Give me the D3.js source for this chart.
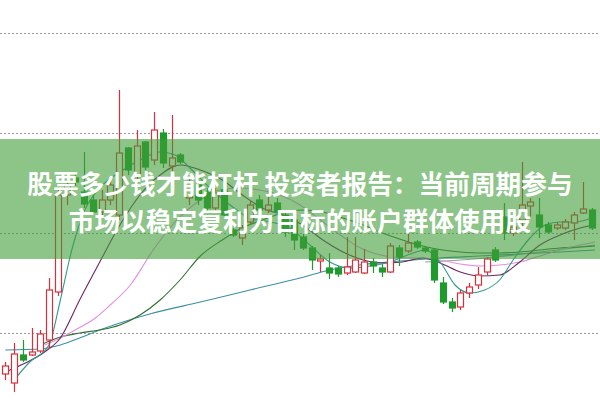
<!DOCTYPE html>
<html><head><meta charset="utf-8">
<script src="https://cdn.jsdelivr.net/npm/d3@7"></script>
<style>html,body{margin:0;padding:0;background:#fff;overflow:hidden}</style>
</head><body>
<svg id="c" width="600" height="400"></svg>
<script>
// ---- data (prices) ----
const opens  = [9.59,9.50,9.78,9.78,9.82,9.93,10.41,11.38,11.55,11.41,11.33,11.21,11.33,11.18,11.85,11.58,11.91,11.73,12.00,11.67,11.78,11.35,11.48,11.41,11.25,11.43,11.03,10.95,11.11,11.33,11.23,11.30,11.18,11.13,10.96,10.85,10.72,10.65,10.65,10.60,10.61,10.60,10.71,10.65,10.61,10.85,10.82,10.91,10.85,10.83,10.50,10.31,10.26,10.40,10.48,10.61,10.83,11.16,11.00,11.13,11.27,11.18,11.08,11.05,11.05,11.10,11.20,11.23];
const highs  = [9.71,9.90,9.93,10.05,10.03,10.55,11.45,11.55,11.58,11.81,11.38,11.43,11.55,12.43,11.86,12.03,11.92,12.21,12.04,12.18,11.80,11.55,11.58,11.45,11.45,11.48,11.05,11.08,11.33,11.38,11.43,11.35,11.23,11.18,10.99,10.87,10.78,10.80,10.67,10.96,10.96,10.84,10.75,10.69,10.90,10.88,11.01,10.93,10.87,10.85,10.56,10.35,10.43,10.50,10.66,10.76,10.86,11.30,11.13,11.71,11.35,11.35,11.11,11.11,11.14,11.21,11.51,11.25];
const lows   = [9.53,9.41,9.71,9.77,9.80,9.84,10.37,11.28,11.47,11.25,11.18,11.15,11.28,11.13,11.58,11.48,11.63,11.68,11.65,11.61,11.69,11.28,11.28,11.21,11.23,11.15,10.96,10.88,11.08,11.19,11.20,11.18,10.96,10.83,10.83,10.63,10.61,10.54,10.56,10.58,10.60,10.59,10.60,10.56,10.60,10.67,10.80,10.84,10.80,10.50,10.29,10.21,10.23,10.35,10.44,10.58,10.71,10.93,10.97,11.06,11.16,10.95,10.99,11.03,11.03,10.93,11.19,11.03];
const closes = [9.67,9.79,9.73,9.81,9.99,10.43,11.38,11.48,11.51,11.29,11.21,11.33,11.48,11.80,11.63,11.87,11.66,12.03,11.70,11.75,11.71,11.50,11.33,11.25,11.40,11.18,10.98,11.05,11.28,11.23,11.28,11.21,11.01,10.93,10.85,10.73,10.74,10.60,10.59,10.66,10.73,10.71,10.67,10.61,10.87,10.76,10.90,10.86,10.82,10.53,10.31,10.25,10.40,10.46,10.58,10.74,10.73,11.00,11.06,11.28,11.31,11.06,11.01,11.08,11.11,11.18,11.24,11.05];
const gridTicks = [10, 11, 12, 13];

// moving-average lines: x positions in bar index units, values in price
const ma5X  = [1,2.8,5,6.3,7.6,9.1,10.8,13.1,15.4,17.7,19.4,21.1,23.4,25.7,27.9,30.3,32.5,34.8,37.1,39.4,41.7,43.97,46.3,47.97,49.7,51.4,53.1,54.8,56.5,58.2,59.97,61.7,63.4,65.1,67.05];
const ma5   = [9.53,9.71,9.88,10.33,10.83,11.23,11.45,11.61,11.73,11.81,11.78,11.65,11.45,11.28,11.15,11.11,11.05,10.88,10.71,10.65,10.67,10.71,10.79,10.83,10.71,10.48,10.40,10.43,10.53,10.75,10.95,11.08,11.11,11.11,11.15];
const ma10X = [0,2.3,4.5,6.3,8.5,10.8,13.1,15.4,17.7,19.97,22.3,24.8,27.1,29.4,31.7,33.97,36.3,38.6,40.9,43.1,45.4,47.7,49.7,52.0,54.2,56.5,58.8,61.1,63.4,65.7,67.4];
const ma10  = [9.61,9.70,9.81,9.95,10.33,10.71,11.08,11.38,11.58,11.68,11.63,11.53,11.38,11.25,11.18,11.08,10.93,10.81,10.73,10.70,10.71,10.75,10.70,10.61,10.57,10.58,10.71,10.88,10.98,11.05,11.08];
const ma20X = [4.5,6.3,8,10.3,12,14.3,16.9,19.4,22.3,24.5,26.8,29.1,31.4,33.7,36,38.3,40.6,42.9,45.1,47.4,49.7,52,54.3,56.5,58.8,61.1,63.4,65.7,67.4];
const ma20  = [9.88,9.95,10.03,10.15,10.28,10.48,10.83,11.11,11.33,11.43,11.45,11.43,11.38,11.28,11.13,10.98,10.85,10.78,10.75,10.75,10.73,10.69,10.67,10.68,10.71,10.77,10.83,10.88,10.91];
const ma30X = [4,6.3,8.5,10.8,13.1,15.4,17.7,19.97,22.3,24.8,27.1,29.4,31.7,33.97,36.3,38.6,40.9,43.1,45.4,47.7,49.97,52.0,54.3,56.5,58.8,61.1,63.4,65.7,67.4];
const ma30  = [9.88,9.96,10.00,10.03,10.08,10.18,10.33,10.53,10.77,10.93,11.05,11.13,11.20,11.23,11.21,11.15,11.08,11.00,10.93,10.87,10.83,10.81,10.80,10.80,10.81,10.83,10.85,10.86,10.87];
const ma60X = [0,4,6.3,8.5,10.8,13.1,16.5,22.3,27.97,33.7,37.1,40.5,45.1,49.7,54.2,58.8,63.4,67.4];
const ma60  = [9.83,9.84,9.88,9.95,10.03,10.10,10.19,10.31,10.43,10.55,10.63,10.68,10.72,10.75,10.77,10.79,10.81,10.83];
const ma120X = [48,52,56,60,64,67.4];
const ma120  = [10.71,10.73,10.76,10.80,10.84,10.88];

const title1 = "股票多少钱才能杠杆 投资者报告：当前周期参与";
const title2 = "市场以稳定复利为目标的账户群体使用股";

// ---- drawing ----
const W = 600, H = 400;
const svg = d3.select("#c");
const idx = d3.range(opens.length);
const x = d3.scaleBand().domain(idx).range([0.875, 595.875]).paddingInner(0.34).paddingOuter(0.17);
const y = d3.scaleLinear().domain([13.33, 9.33]).range([0, 400]);
const xc = i => 0.875 + x.step() * (i + 0.5);

// grid
svg.append("g").selectAll("line").data(gridTicks).join("line")
  .attr("x1", 0).attr("x2", W)
  .attr("y1", d => Math.round(y(d)) + 0.5).attr("y2", d => Math.round(y(d)) + 0.5)
  .attr("stroke", "#9a9a9a").attr("stroke-width", 1).attr("stroke-dasharray", "2,2");

// MA lines
const maSets = [
  {xs: ma120X, ys: ma120, color: "#9a9a9a"},
  {xs: ma60X, ys: ma60, color: "#3b8fa6"},
  {xs: ma30X, ys: ma30, color: "#2f6e30"},
  {xs: ma20X, ys: ma20, color: "#e48fe0"},
  {xs: ma10X, ys: ma10, color: "#6e2462"},
  {xs: ma5X,  ys: ma5,  color: "#2f9c8e"}
];
const line = d3.line().x(d => xc(d[0])).y(d => y(d[1])).curve(d3.curveMonotoneX);
svg.append("g").selectAll("path").data(maSets).join("path")
  .attr("d", m => line(m.xs.map((v, i) => [v, m.ys[i]])))
  .attr("fill", "none").attr("stroke", m => m.color).attr("stroke-width", 1.1);

// candles
const bw = x.bandwidth();
const up = i => closes[i] >= opens[i];
const red = "#d7303c", green = "#1f9a2e";
const g = svg.append("g").selectAll("g").data(idx).join("g");
g.append("line")
  .attr("x1", i => Math.round(xc(i)) + 0.5).attr("x2", i => Math.round(xc(i)) + 0.5)
  .attr("y1", i => y(highs[i])).attr("y2", i => y(lows[i]))
  .attr("stroke", i => up(i) ? red : green).attr("stroke-width", 1.2);
g.append("rect")
  .attr("x", i => Math.round(xc(i) - bw / 2) + 0.5)
  .attr("y", i => y(Math.max(opens[i], closes[i])))
  .attr("width", Math.round(bw))
  .attr("height", i => Math.max(1.5, Math.abs(y(opens[i]) - y(closes[i]))))
  .attr("fill", i => up(i) ? "#fff" : green)
  .attr("stroke", i => up(i) ? red : green).attr("stroke-width", 1.2);

// banner
svg.append("rect").attr("x", 0).attr("y", 139).attr("width", W).attr("height", 120)
  .attr("fill", "rgb(65,157,57)").attr("fill-opacity", 0.6);
const tf = "'Noto Sans CJK SC','Noto Sans',sans-serif";
svg.append("text").attr("x", 300).attr("y", 182).text(title1)
  .attr("text-anchor", "middle").attr("dominant-baseline", "central")
  .attr("font-family", tf).attr("font-weight", 700).attr("font-size", 25.7).attr("fill", "#fff");
svg.append("text").attr("x", 300).attr("y", 219).text(title2)
  .attr("text-anchor", "middle").attr("dominant-baseline", "central")
  .attr("font-family", tf).attr("font-weight", 700).attr("font-size", 25.7).attr("fill", "#fff");
</script>
</body></html>
